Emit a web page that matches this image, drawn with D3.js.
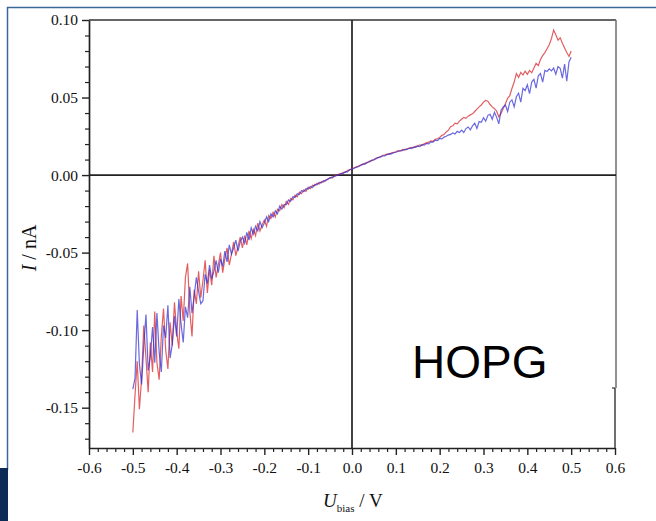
<!DOCTYPE html>
<html>
<head>
<meta charset="utf-8">
<script src="https://cdn.jsdelivr.net/npm/d3@7"></script>
<style>
  body { margin: 0; background: #fff; }
  svg { display: block; }
  .tick text { font-family: "Liberation Serif", "Times New Roman", serif; font-size: 15.5px; fill: #111; }
</style>
</head>
<body>
<svg id="chart" width="656" height="521"></svg>
<script>
// bias voltage (V) of the sweep
const voltage = [
  -0.500,-0.495,-0.490,-0.485,-0.480,-0.475,-0.470,-0.465,-0.460,-0.455,
  -0.450,-0.445,-0.440,-0.435,-0.430,-0.425,-0.420,-0.415,-0.410,-0.405,
  -0.400,-0.395,-0.390,-0.385,-0.380,-0.375,-0.370,-0.365,-0.360,-0.355,
  -0.350,-0.345,-0.340,-0.335,-0.330,-0.325,-0.320,-0.315,-0.310,-0.305,
  -0.300,-0.295,-0.290,-0.285,-0.280,-0.275,-0.270,-0.265,-0.260,-0.255,
  -0.250,-0.245,-0.240,-0.235,-0.230,-0.225,-0.220,-0.215,-0.210,-0.205,
  -0.200,-0.195,-0.190,-0.185,-0.180,-0.175,-0.170,-0.165,-0.160,-0.155,
  -0.150,-0.145,-0.140,-0.135,-0.130,-0.125,-0.120,-0.115,-0.110,-0.105,
  -0.100,-0.095,-0.090,-0.085,-0.080,-0.075,-0.070,-0.065,-0.060,-0.055,
  -0.050,-0.045,-0.040,-0.035,-0.030,-0.025,-0.020,-0.015,-0.010,-0.005,
   0.000, 0.005, 0.010, 0.015, 0.020, 0.025, 0.030, 0.035, 0.040, 0.045,
   0.050, 0.055, 0.060, 0.065, 0.070, 0.075, 0.080, 0.085, 0.090, 0.095,
   0.100, 0.105, 0.110, 0.115, 0.120, 0.125, 0.130, 0.135, 0.140, 0.145,
   0.150, 0.155, 0.160, 0.165, 0.170, 0.175, 0.180, 0.185, 0.190, 0.195,
   0.200, 0.205, 0.210, 0.215, 0.220, 0.225, 0.230, 0.235, 0.240, 0.245,
   0.250, 0.255, 0.260, 0.265, 0.270, 0.275, 0.280, 0.285, 0.290, 0.295,
   0.300, 0.305, 0.310, 0.315, 0.320, 0.325, 0.330, 0.335, 0.340, 0.345,
   0.350, 0.355, 0.360, 0.365, 0.370, 0.375, 0.380, 0.385, 0.390, 0.395,
   0.400, 0.405, 0.410, 0.415, 0.420, 0.425, 0.430, 0.435, 0.440, 0.445,
   0.450, 0.455, 0.460, 0.465, 0.470, 0.475, 0.480, 0.485, 0.490, 0.495,
   0.500
];

// current (nA), red sweep
const currentRed = [
  -0.166,-0.142,-0.120,-0.151,-0.131,-0.097,-0.118,-0.140,-0.108,-0.127,
  -0.088,-0.121,-0.132,-0.104,-0.086,-0.113,-0.125,-0.095,-0.110,-0.082,
  -0.101,-0.112,-0.078,-0.094,-0.066,-0.057,-0.088,-0.104,-0.074,-0.083,
  -0.062,-0.079,-0.068,-0.055,-0.076,-0.061,-0.071,-0.052,-0.066,-0.058,
  -0.050,-0.063,-0.054,-0.047,-0.058,-0.051,-0.043,-0.052,-0.046,-0.040,
  -0.047,-0.039,-0.045,-0.036,-0.041,-0.035,-0.039,-0.031,-0.036,-0.032,
  -0.029,-0.033,-0.026,-0.028,-0.024,-0.027,-0.022,-0.023,-0.019,-0.021,
  -0.017,-0.019,-0.015,-0.016,-0.013,-0.014,-0.011,-0.012,-0.0095,-0.0105,
  -0.0078,-0.0088,-0.0066,-0.0070,-0.0052,-0.0058,-0.0042,-0.0045,-0.0030,-0.0028,
  -0.0015,-0.0019,-0.0002,-0.0004,0.0008,0.0006,0.0018,0.0017,0.0030,0.0033,
  0.0042,0.0047,0.0054,0.0058,0.0066,0.0069,0.0077,0.0080,0.0090,0.0093,
  0.0101,0.0110,0.0112,0.0120,0.0126,0.0130,0.0135,0.0134,0.0143,0.0146,
  0.0150,0.0158,0.0154,0.0165,0.0161,0.0170,0.0172,0.0178,0.0176,0.0185,
  0.0188,0.0195,0.0192,0.0203,0.0208,0.0212,0.0220,0.0218,0.0230,0.0234,
  0.0242,0.0256,0.0262,0.0278,0.0290,0.0312,0.0318,0.0335,0.0330,0.0348,
  0.0360,0.0372,0.0366,0.0380,0.0388,0.0395,0.0410,0.0425,0.0440,0.0452,
  0.0470,0.0482,0.0476,0.0455,0.0440,0.0428,0.0412,0.0375,0.0398,0.0430,
  0.0460,0.0495,0.0512,0.0560,0.0600,0.0655,0.0630,0.0662,0.0645,0.0670,
  0.0650,0.0675,0.0660,0.0690,0.0720,0.0705,0.0745,0.0770,0.0790,0.0815,
  0.0840,0.0880,0.0935,0.0905,0.0870,0.0885,0.0850,0.0820,0.0790,0.0765,
  0.0800
];

// current (nA), blue sweep
const currentBlue = [
  -0.138,-0.131,-0.087,-0.122,-0.135,-0.110,-0.090,-0.126,-0.117,-0.098,
  -0.121,-0.089,-0.114,-0.127,-0.097,-0.105,-0.084,-0.118,-0.109,-0.091,
  -0.104,-0.080,-0.096,-0.108,-0.085,-0.092,-0.072,-0.089,-0.078,-0.066,
  -0.075,-0.083,-0.081,-0.064,-0.070,-0.058,-0.067,-0.062,-0.055,-0.063,
  -0.054,-0.059,-0.049,-0.056,-0.045,-0.051,-0.047,-0.042,-0.049,-0.043,
  -0.040,-0.044,-0.037,-0.042,-0.034,-0.038,-0.033,-0.036,-0.030,-0.034,
  -0.031,-0.027,-0.030,-0.025,-0.027,-0.023,-0.025,-0.020,-0.022,-0.019,
  -0.019,-0.016,-0.017,-0.014,-0.0145,-0.012,-0.0125,-0.010,-0.0108,-0.0088,
  -0.0090,-0.0074,-0.0080,-0.0060,-0.0063,-0.0047,-0.0050,-0.0036,-0.0038,-0.0024,
  -0.0020,-0.0012,-0.0010,0.0001,-0.0001,0.0011,0.0010,0.0022,0.0021,0.0036,
  0.0038,0.0044,0.0050,0.0055,0.0062,0.0072,0.0071,0.0083,0.0085,0.0096,
  0.0098,0.0105,0.0114,0.0116,0.0124,0.0123,0.0132,0.0138,0.0137,0.0144,
  0.0147,0.0152,0.0157,0.0158,0.0166,0.0164,0.0173,0.0170,0.0180,0.0179,
  0.0186,0.0184,0.0196,0.0193,0.0204,0.0201,0.0214,0.0212,0.0225,0.0222,
  0.0236,0.0233,0.0245,0.0250,0.0258,0.0262,0.0272,0.0265,0.0282,0.0275,
  0.0290,0.0275,0.0300,0.0310,0.0292,0.0318,0.0335,0.0300,0.0345,0.0340,
  0.0370,0.0348,0.0385,0.0392,0.0360,0.0405,0.0372,0.0330,0.0418,0.0440,
  0.0452,0.0410,0.0470,0.0485,0.0440,0.0505,0.0528,0.0470,0.0560,0.0545,
  0.0582,0.0525,0.0600,0.0618,0.0560,0.0640,0.0655,0.0600,0.0675,0.0668,
  0.0685,0.0672,0.0690,0.0650,0.0700,0.0688,0.0625,0.0715,0.0605,0.0730,
  0.0760
];

const xTicks = [-0.6,-0.5,-0.4,-0.3,-0.2,-0.1,0.0,0.1,0.2,0.3,0.4,0.5,0.6];
const yTicks = [-0.15,-0.10,-0.05,0.00,0.05,0.10];

const svg = d3.select("#chart");

// slide decoration
svg.append("line").attr("x1", 7).attr("x2", 656).attr("y1", 7.5).attr("y2", 7.5)
  .attr("stroke", "#3a6796").attr("stroke-width", 1.5);
svg.append("line").attr("x1", 7.5).attr("x2", 7.5).attr("y1", 7).attr("y2", 470)
  .attr("stroke", "#3a6796").attr("stroke-width", 1.5);
svg.append("rect").attr("x", 0).attr("y", 468).attr("width", 8).attr("height", 53)
  .attr("fill", "#0c2b55");

const x = d3.scaleLinear().domain([-0.6, 0.6]).range([89, 615]);
const y = d3.scaleLinear().domain([-0.176, 0.10]).range([448, 20]);

// minor ticks
const xMinor = d3.range(-0.6, 0.6001, 0.02).filter(v => Math.abs(v * 10 - Math.round(v * 10)) > 1e-6);
const yMinor = d3.range(-0.17, 0.1001, 0.01).filter(v => Math.abs(v * 20 - Math.round(v * 20)) > 1e-6);

svg.append("g").attr("transform", "translate(0,448)")
  .call(d3.axisBottom(x).tickValues(xMinor).tickSize(4).tickFormat(""))
  .call(g => g.select(".domain").remove())
  .selectAll("line").attr("stroke", "#222").attr("stroke-width", 1.2);
svg.append("g").attr("transform", "translate(89,0)")
  .call(d3.axisLeft(y).tickValues(yMinor).tickSize(4).tickFormat(""))
  .call(g => g.select(".domain").remove())
  .selectAll("line").attr("stroke", "#222").attr("stroke-width", 1.2);

const xAxis = svg.append("g").attr("transform", "translate(0,448)")
  .call(d3.axisBottom(x).tickValues(xTicks).tickSize(7).tickSizeOuter(0).tickPadding(5)
    .tickFormat(d => d.toFixed(1)));
const yAxis = svg.append("g").attr("transform", "translate(89,0)")
  .call(d3.axisLeft(y).tickValues(yTicks).tickSize(7).tickSizeOuter(0).tickPadding(4)
    .tickFormat(d => d.toFixed(2)));
[xAxis, yAxis].forEach(g => {
  g.select(".domain").attr("stroke", "#222").attr("stroke-width", 1.7);
  g.selectAll(".tick line").attr("stroke", "#222").attr("stroke-width", 1.4);
});
xAxis.selectAll(".tick text").attr("dy", "0.85em");

// top & right frame
svg.append("line").attr("x1", 89).attr("x2", 616).attr("y1", 20).attr("y2", 20)
  .attr("stroke", "#333").attr("stroke-width", 1.7);
svg.append("line").attr("x1", 616).attr("x2", 616).attr("y1", 20).attr("y2", 388)
  .attr("stroke", "#777").attr("stroke-width", 1.6);
svg.append("line").attr("x1", 615).attr("x2", 615).attr("y1", 388).attr("y2", 448)
  .attr("stroke", "#333").attr("stroke-width", 1.4);
svg.append("line").attr("x1", 612).attr("x2", 615).attr("y1", 388).attr("y2", 388)
  .attr("stroke", "#333").attr("stroke-width", 1.2);

// zero lines
svg.append("line").attr("x1", 89).attr("x2", 616).attr("y1", y(0)).attr("y2", y(0))
  .attr("stroke", "#222").attr("stroke-width", 1.7);
svg.append("line").attr("x1", x(0)).attr("x2", x(0)).attr("y1", 20).attr("y2", 448)
  .attr("stroke", "#222").attr("stroke-width", 1.7);

// curves
const line = d3.line().x(d => x(d[0])).y(d => y(d[1]));
svg.append("path").datum(d3.zip(voltage, currentRed))
  .attr("d", line).attr("fill", "none")
  .attr("stroke", "#d8282c").attr("stroke-opacity", 0.75).attr("stroke-width", 1.2);
svg.append("path").datum(d3.zip(voltage, currentBlue))
  .attr("d", line).attr("fill", "none")
  .attr("stroke", "#2a2ad4").attr("stroke-opacity", 0.7).attr("stroke-width", 1.2);

// axis titles
const yt = svg.append("text")
  .attr("transform", "translate(36,248) rotate(-90)")
  .attr("text-anchor", "middle")
  .style("font-family", "'Liberation Serif', 'Times New Roman', serif")
  .style("font-size", "20px").attr("fill", "#111");
yt.append("tspan").style("font-style", "italic").text("I");
yt.append("tspan").text(" / nA");

const xt = svg.append("text")
  .attr("x", 323).attr("y", 507)
  .style("font-family", "'Liberation Serif', 'Times New Roman', serif")
  .style("font-size", "19px").attr("fill", "#111");
xt.append("tspan").style("font-style", "italic").text("U");
xt.append("tspan").attr("dy", 5).style("font-size", "11px").text("bias");
xt.append("tspan").attr("dy", -5).text(" / V");

// sample label
svg.append("text").attr("x", 412).attr("y", 378)
  .style("font-family", "'Liberation Sans', Arial, sans-serif")
  .style("font-size", "46px").attr("fill", "#000")
  .text("HOPG");
</script>
</body>
</html>
